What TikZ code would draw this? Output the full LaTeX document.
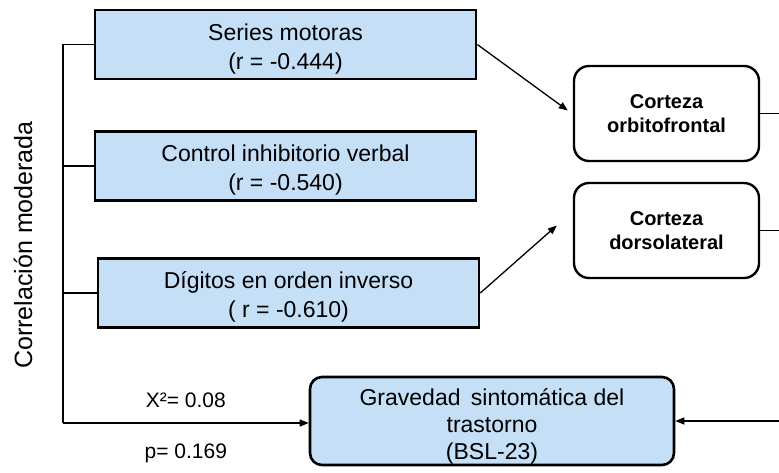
\documentclass[tikz,border=0pt]{standalone}
\usepackage{fontspec}
\setmainfont{Liberation Sans}
\usetikzlibrary{arrows.meta}
\definecolor{boxblue}{RGB}{197,223,247}
\newcommand{\tallstrut}[1]{\rule{0pt}{#1}}
\begin{document}
\begin{tikzpicture}[x=1pt, y=-1pt, >={Triangle[length=9pt,width=7pt]}, line width=1.3pt,
  blubox/.style={draw, line width=2.6pt, fill=boxblue, minimum width=381pt, minimum height=69pt,
    align=center, inner sep=0pt, font=\fontsize{23}{29}\selectfont},
  cortbox/.style={draw, line width=2.4pt, rounded corners=15pt, minimum width=185pt, minimum height=95pt,
    align=center, inner sep=0pt, font=\fontsize{20}{24}\selectfont\bfseries}]
\useasboundingbox (0,0) rectangle (779,472);

\node[blubox] (ser) at (285.5,44.5) {\tallstrut{25pt}Series motoras\\(r = -0.444)};
\node[blubox] (ctl) at (285.5,166) {\tallstrut{25pt}Control inhibitorio verbal\\(r = -0.540)};
\node[blubox] (dig) at (288.5,293) {\tallstrut{25pt}Dígitos en orden inverso\\( r = -0.610)};

\node[cortbox] (orb) at (666.5,113.5) {Corteza\\orbitofrontal};
\node[cortbox] (dor) at (666.5,230.5) {Corteza\\dorsolateral};

\node[blubox, rounded corners=12pt, minimum width=364pt, minimum height=88pt,
  font=\fontsize{23}{27}\selectfont] (grav) at (492,421)
  {\tallstrut{27pt}Gravedad\hspace{4pt} sintomática del\\trastorno\\(BSL-23)};

\node[rotate=90, font=\fontsize{25}{30}\selectfont] (cor) at (23,245) {Correlación moderada};

\coordinate (brk) at (63,423);
\coordinate (rim) at (779,0);

% bracket on the left
\draw (ser.west) -| (brk);
\draw (ctl.west) -- (ctl.west -| brk);
\draw (dig.west) -- (dig.west -| brk);
\draw[->] (brk) -- node[above=15pt, inner sep=0pt, font=\fontsize{21}{25}\selectfont] (chi) {X²= 0.08}
  node[below=20pt, inner sep=0pt, font=\fontsize{21}{25}\selectfont] (pv) {p= 0.169} (brk -| grav.west);

% to the cortex boxes
\draw[->] (ser.east) -- ([xshift=-5pt,yshift=3pt]orb.west);
\draw[->] (dig.east) -- ([xshift=-16pt,yshift=5pt]dor.west);

% out at the right edge
\draw (orb.east) -- (orb.east -| rim);
\draw (dor.east) -- (dor.east -| rim);
\draw[->] (grav.east -| rim) -- (grav.east);
\end{tikzpicture}
\end{document}
